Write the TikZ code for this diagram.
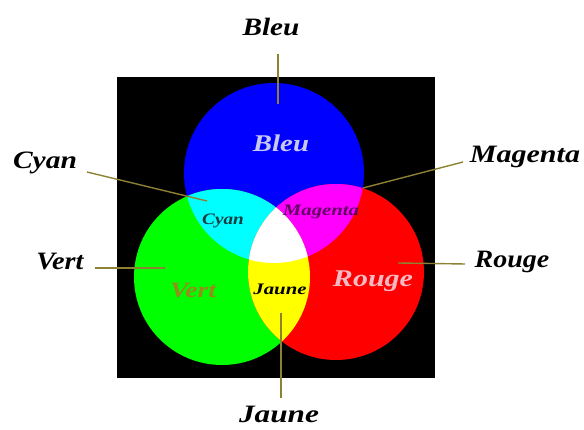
\documentclass[tikz,border=0pt]{standalone}
\usepackage{fontspec}
\usepackage{graphicx}
\setmainfont{Liberation Serif}
\definecolor{leadcol}{RGB}{140,130,50}
\definecolor{pureblue}{RGB}{0,0,255}
\definecolor{puregreen}{RGB}{0,255,0}
\definecolor{purered}{RGB}{255,0,0}
\definecolor{purecyan}{RGB}{0,255,255}
\definecolor{puremag}{RGB}{255,0,255}
\definecolor{pureyel}{RGB}{255,255,0}
\definecolor{bleutxt}{RGB}{200,200,245}
\definecolor{cyantxt}{RGB}{25,60,65}
\definecolor{magtxt}{RGB}{100,0,100}
\definecolor{verttxt}{RGB}{150,140,30}
\definecolor{rougetxt}{RGB}{245,185,195}
\begin{document}
\begin{tikzpicture}[x=1pt,y=-1pt,
  outlbl/.style={font=\fontsize{25}{28}\selectfont\bfseries\itshape, text=black, inner sep=0pt},
  inlbl/.style={font=\bfseries\itshape, inner sep=0pt},
  lead/.style={draw=leadcol, line width=1.4pt}]
\useasboundingbox (0,0) rectangle (584,430);
\fill[black] (117,77) rectangle (435,378);
\coordinate (B) at (274,173);
\coordinate (G) at (222,277);
\coordinate (R) at (336,272);
\fill[pureblue] (B) circle[radius=90pt];
\fill[puregreen] (G) circle[radius=88pt];
\fill[purered] (R) circle[radius=88pt];
\begin{scope}
  \clip (B) circle[radius=90pt];
  \fill[purecyan] (G) circle[radius=88pt];
  \fill[puremag] (R) circle[radius=88pt];
\end{scope}
\begin{scope}
  \clip (G) circle[radius=88pt];
  \fill[pureyel] (R) circle[radius=88pt];
\end{scope}
\begin{scope}
  \clip (G) circle[radius=88pt];
  \clip (R) circle[radius=88pt];
  \fill[white] (B) circle[radius=90pt];
\end{scope}

% inner labels
\node[inlbl, text=bleutxt, font=\fontsize{24}{26}\selectfont\bfseries\itshape] (ibleu) at (281,143) {\scalebox{1.2}[1]{Bleu}};
\node[inlbl, text=cyantxt, font=\fontsize{16}{18}\selectfont\bfseries\itshape] (icyan) at (223,221) {\scalebox{1.2}[1]{Cyan}};
\node[inlbl, text=magtxt, font=\fontsize{16}{18}\selectfont\bfseries\itshape] (imag) at (321,212) {\scalebox{1.3}[1]{Magenta}};
\node[inlbl, text=verttxt, font=\fontsize{22}{24}\selectfont\bfseries\itshape] (ivert) at (193,290) {\scalebox{1.25}[1]{Vert}};
\node[inlbl, text=black, font=\fontsize{16}{18}\selectfont\bfseries\itshape] (ijaune) at (280,289) {\scalebox{1.3}[1]{Jaune}};
\node[inlbl, text=rougetxt, font=\fontsize{24}{26}\selectfont\bfseries\itshape] (irouge) at (373,281) {\scalebox{1.25}[1]{Rouge}};

% outer labels
\node[outlbl] (obleu) at (271,27) {\scalebox{1.17}[1]{Bleu}};
\node[outlbl] (ocyan) at (45,163) {\scalebox{1.18}[1]{Cyan}};
\node[outlbl] (omag) at (525,157) {\scalebox{1.2}[1]{Magenta}};
\node[outlbl] (overt) at (60,262) {\scalebox{1.13}[1]{Vert}};
\node[outlbl] (orouge) at (512,262) {\scalebox{1.12}[1]{Rouge}};
\node[outlbl] (ojaune) at (279,414) {\scalebox{1.25}[1]{Jaune}};

% leader ends
\coordinate (bleuA) at (278,54);   \coordinate (bleuB) at (278,104);
\coordinate (cyanA) at (87,172);   \coordinate (cyanB) at (207,201);
\coordinate (magA) at (463,162);   \coordinate (magB) at (363,188);
\coordinate (vertA) at (95,268);   \coordinate (vertB) at (165,268);
\coordinate (rougeA) at (465,264); \coordinate (rougeB) at (398,263);
\coordinate (jauneA) at (281,398); \coordinate (jauneB) at (281,313);
\draw[lead] (bleuA) -- (bleuB);
\draw[lead] (cyanA) -- (cyanB);
\draw[lead] (magA) -- (magB);
\draw[lead] (vertA) -- (vertB);
\draw[lead] (rougeA) -- (rougeB);
\draw[lead] (jauneA) -- (jauneB);
\end{tikzpicture}
\end{document}
